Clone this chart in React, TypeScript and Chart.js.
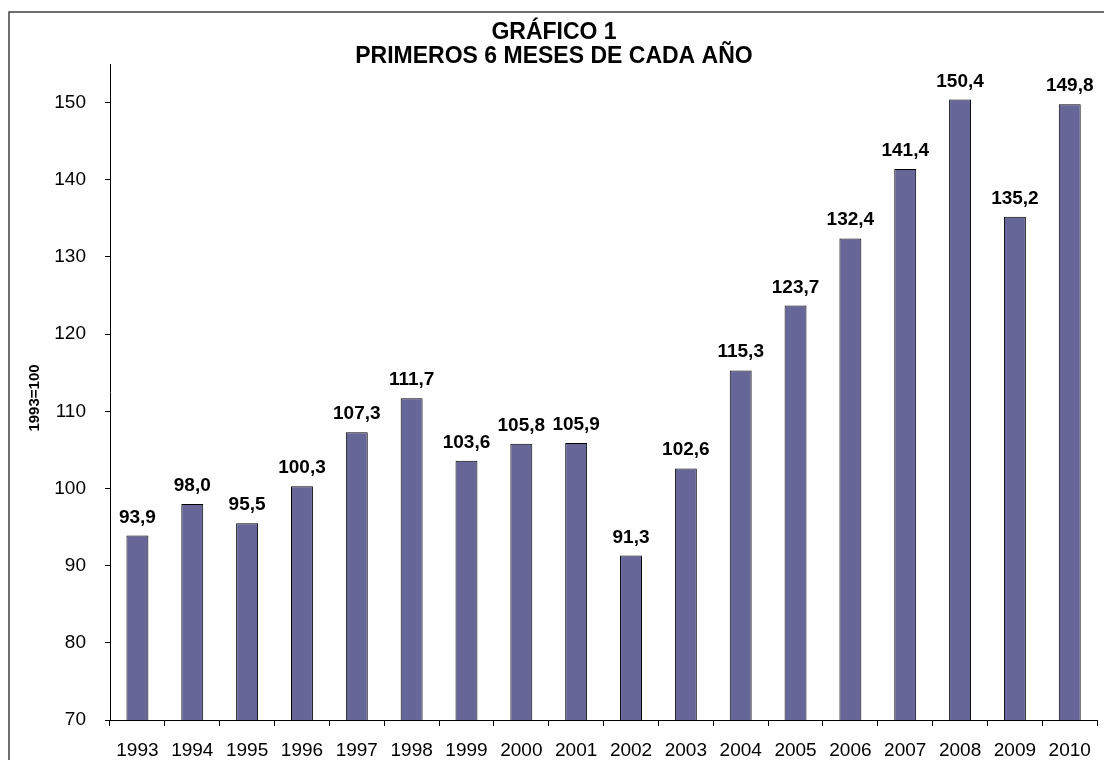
import React, { useEffect, useRef } from "react";
import { Chart, registerables } from "chart.js";

Chart.register(...registerables);

const years = ["1993", "1994", "1995", "1996", "1997", "1998", "1999", "2000", "2001", "2002", "2003", "2004", "2005", "2006", "2007", "2008", "2009", "2010"];
const values = [93.9, 98.0, 95.5, 100.3, 107.3, 111.7, 103.6, 105.8, 105.9, 91.3, 102.6, 115.3, 123.7, 132.4, 141.4, 150.4, 135.2, 149.8];
const titleLines = ["GRÁFICO 1", "PRIMEROS 6 MESES DE CADA AÑO"];
const yAxisTitle = "1993=100";
const yMin = 70;
const yMax = 155;
const yStep = 10;

const FONT = "'Liberation Sans', Arial, sans-serif";

const decorPlugin = {
  id: "decor",
  afterDraw(chart: any) {
    const ctx = chart.ctx;
    ctx.save();
    // frame
    ctx.strokeStyle = "#404040";
    ctx.lineWidth = 1.5;
    ctx.strokeRect(9, 12, 1200, 900);
    // title
    ctx.fillStyle = "#000";
    ctx.font = `bold 23px ${FONT}`;
    ctx.textAlign = "center";
    ctx.textBaseline = "alphabetic";
    const baselines = [38.5, 63];
    titleLines.forEach((t, i) => {
      ctx.fillText(t, 554, baselines[i]);
    });
    // y title
    ctx.save();
    ctx.font = `bold 15px ${FONT}`;
    ctx.translate(35, 398);
    ctx.rotate(-Math.PI / 2);
    ctx.textAlign = "center";
    ctx.textBaseline = "middle";
    ctx.fillText(yAxisTitle, 0, 0);
    ctx.restore();
    // data labels
    const meta = chart.getDatasetMeta(0);
    ctx.font = `bold 19px ${FONT}`;
    ctx.textAlign = "center";
    ctx.textBaseline = "alphabetic";
    meta.data.forEach((el: any, i: number) => {
      const txt = values[i].toFixed(1).replace(".", ",");
      ctx.fillText(txt, el.x, el.y - 13);
    });
    ctx.restore();
  },
};

export default function App() {
  const ref = useRef<HTMLCanvasElement>(null);
  useEffect(() => {
    if (!ref.current) return;
    const chart = new Chart(ref.current, {
      type: "bar",
      data: {
        labels: years,
        datasets: [
          {
            data: values,
            backgroundColor: "#666699",
            borderColor: "#000000",
            borderWidth: 1,
            borderSkipped: false,
            barPercentage: 0.4,
            categoryPercentage: 1,
          },
        ],
      },
      options: {
        responsive: false,
        animation: false,
        layout: { padding: { top: 64, right: 4, left: 0, bottom: 0 } },
        plugins: { legend: { display: false }, tooltip: { enabled: false }, title: { display: false } },
        scales: {
          x: {
            grid: { display: true, drawOnChartArea: false, drawTicks: true, tickLength: 6, color: "#000", offset: true },
            border: { display: true, color: "#000", width: 1 },
            ticks: { color: "#000", font: { family: FONT, size: 19 }, padding: 13, maxRotation: 0, autoSkip: false },
            afterFit(scale: any) {
              scale.height = 40;
            },
          },
          y: {
            min: yMin,
            max: yMax,
            grid: { display: true, drawOnChartArea: false, drawTicks: true, tickLength: 5, color: "#000" },
            border: { display: true, color: "#000", width: 1 },
            ticks: { stepSize: yStep, color: "#000", font: { family: FONT, size: 19 }, padding: 19 },
            afterBuildTicks(scale: any) {
              scale.ticks = scale.ticks.filter((t: any) => t.value % yStep === 0);
            },
            afterFit(scale: any) {
              scale.width = 110;
            },
          },
        },
      },
      plugins: [decorPlugin],
    });
    return () => chart.destroy();
  }, []);
  return (
    <div style={{ position: "absolute", left: 0, top: 0, width: 1104, height: 760, background: "#fff" }}>
      <canvas ref={ref} width={1104} height={760} style={{ display: "block" }} />
    </div>
  );
}
